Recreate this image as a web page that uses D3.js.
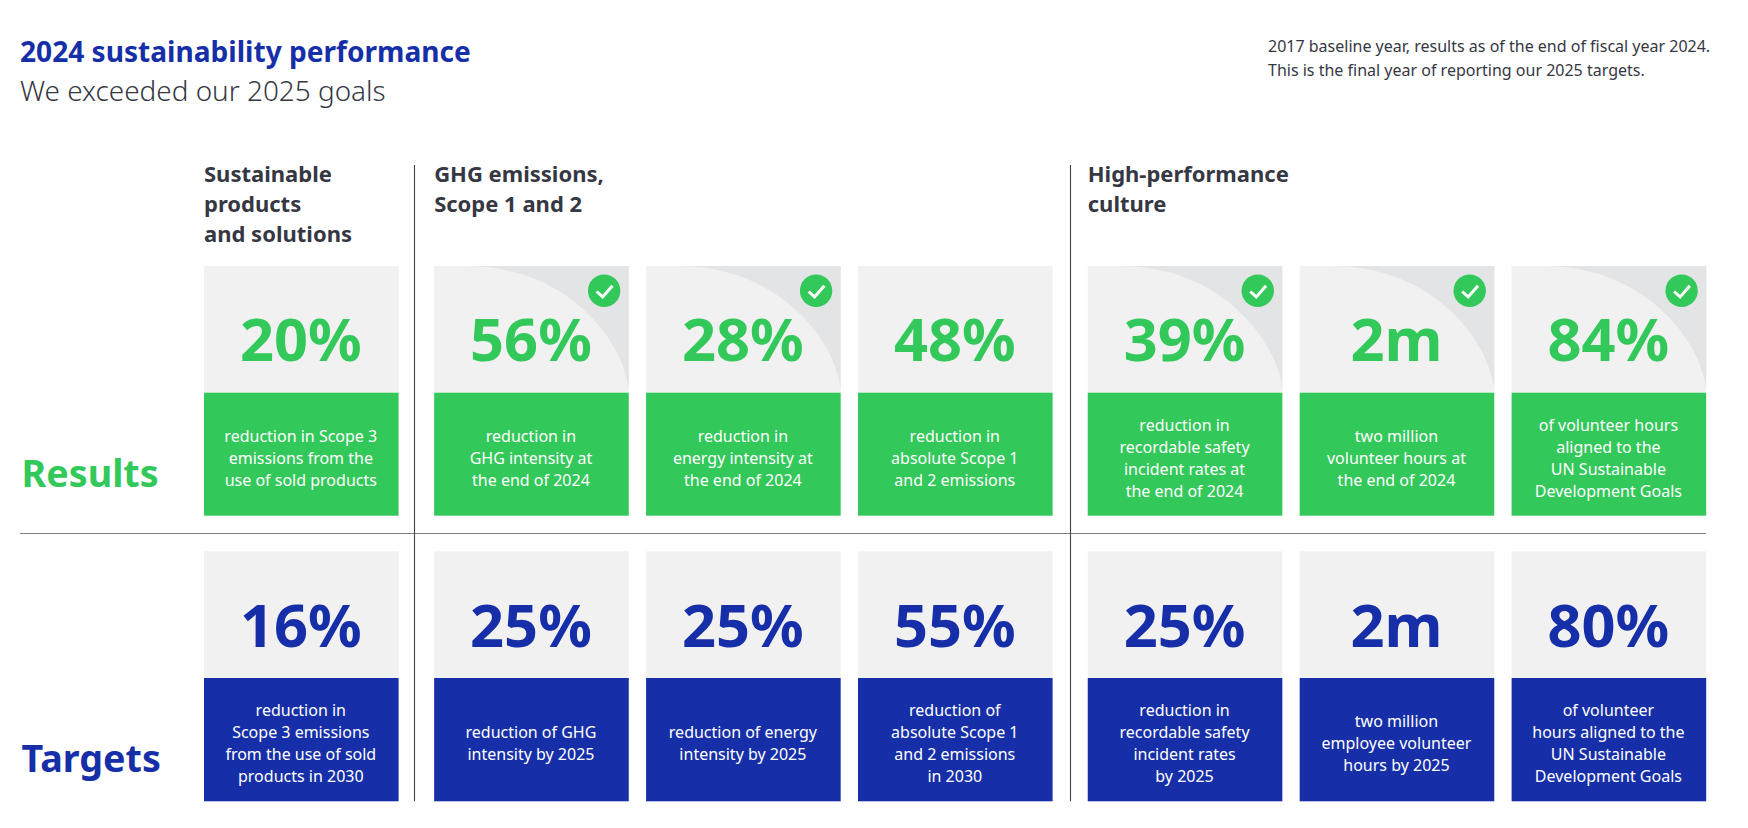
<!DOCTYPE html>
<html><head><meta charset="utf-8">
<script src="https://cdn.jsdelivr.net/npm/d3@7/dist/d3.min.js"></script>
<style>html,body{margin:0;padding:0;background:#fff}svg{display:block}text{font-family:"Noto Sans",sans-serif}</style>
</head><body><div id="c"></div>
<script>
const columns=["Sustainable","GHG intensity","Energy intensity","Absolute emissions","Safety","Volunteer hours","UN goals"];
const resultValues=["20%","56%","28%","48%","39%","2m","84%"];
const targetValues=["16%","25%","25%","55%","25%","2m","80%"];
const achieved=[false,true,true,false,true,true,true];
const resultDesc=[
["reduction in Scope 3","emissions from the","use of sold products"],
["reduction in","GHG intensity at","the end of 2024"],
["reduction in","energy intensity at","the end of 2024"],
["reduction in","absolute Scope 1","and 2 emissions"],
["reduction in","recordable safety","incident rates at","the end of 2024"],
["two million","volunteer hours at","the end of 2024"],
["of volunteer hours","aligned to the","UN Sustainable","Development Goals"]];
const targetDesc=[
["reduction in","Scope 3 emissions","from the use of sold","products in 2030"],
["reduction of GHG","intensity by 2025"],
["reduction of energy","intensity by 2025"],
["reduction of","absolute Scope 1","and 2 emissions","in 2030"],
["reduction in","recordable safety","incident rates","by 2025"],
["two million","employee volunteer","hours by 2025"],
["of volunteer","hours aligned to the","UN Sustainable","Development Goals"]];
const groups=[{col:0,lines:["Sustainable","products","and solutions"]},{col:1,lines:["GHG emissions,","Scope 1 and 2"]},{col:4,lines:["High-performance","culture"]}];
const noteLines=["2017 baseline year, results as of the end of fiscal year 2024.","This is the final year of reporting our 2025 targets."];

const GREEN="#33c85a",NAVY="#162fa8",INK="#353843",LIGHT="#f1f1f2",CORNER="#e2e4e6";
const W=1748,H=828;
const svg=d3.select("#c").append("svg").attr("width",W).attr("height",H).attr("viewBox",`0 0 ${W} ${H}`);

const slotIndex=[0,1.086,2.086,3.086,4.17,5.17,6.17];
const x=d3.scaleLinear().domain([0,6.17]).range([204,1511.6]);
const colX=i=>x(slotIndex[i]);
const cardW=194.6;

function txt(g,s,xp,yp,size,weight,fill,anchor){
  return g.append("text").attr("x",xp).attr("y",yp).attr("font-size",size).attr("font-weight",weight).attr("fill",fill).attr("text-anchor",anchor||"start").text(s);
}
txt(svg,"2024 sustainability performance",20,62,28.1,700,NAVY);
txt(svg,"We exceeded our 2025 goals",20,100.5,27.9,300,INK);
noteLines.forEach((s,i)=>txt(svg,s,1268,52+i*24,16,400,INK));

groups.forEach(d=>d.lines.forEach((s,i)=>txt(svg,s,colX(d.col),181.5+i*30.2,22,700,INK)));

function row(values,desc,color,top,split,bottom,midBaseline,numBaseline,checks){
  const g=svg.append("g");
  columns.forEach((c,i)=>{
    const X=colX(i);
    g.append("rect").attr("x",X).attr("y",top).attr("width",cardW).attr("height",split-top).attr("fill",LIGHT);
    if(checks&&checks[i]){
      const bx=X+cardW;
      g.append("path").attr("d",`M${X+33},${top}L${bx},${top}L${bx},${top+122}C${X+188},${top+72} ${X+131},${top} ${X+33},${top}Z`).attr("fill",CORNER);
      const cx=X+170,cy=top+24.7;
      g.append("circle").attr("cx",cx).attr("cy",cy).attr("r",16.2).attr("fill",GREEN);
      g.append("path").attr("d",`M${cx-7.5},${cy+0.8}L${cx-1.5},${cy+6.2}L${cx+8.3},${cy-5}`).attr("fill","none").attr("stroke","#fff").attr("stroke-width",3);
    }
    g.append("rect").attr("x",X).attr("y",split).attr("width",cardW).attr("height",bottom-split).attr("fill",color);
    txt(g,values[i],X+cardW/2-0.5,numBaseline,59.5,700,color,"middle");
    const L=desc[i];
    L.forEach((s,k)=>txt(g,s,X+cardW/2-0.5,midBaseline+(k-(L.length-1)/2)*22,16,400,"#fff","middle"));
  });
}
row(resultValues,resultDesc,GREEN,266,392.7,515.7,464,361,achieved);
row(targetValues,targetDesc,NAVY,551.3,678,801.3,749,647,null);

txt(svg,"Results",21.5,487,37.7,700,GREEN);
txt(svg,"Targets",21.5,772,37.7,700,NAVY);

svg.append("line").attr("x1",20).attr("x2",1706).attr("y1",533.5).attr("y2",533.5).attr("stroke","#808080").attr("stroke-width",1.2);
[414.5,1070.5].forEach(v=>svg.append("line").attr("x1",v).attr("x2",v).attr("y1",165).attr("y2",801.3).attr("stroke","#444").attr("stroke-width",1.1));
</script></body></html>
